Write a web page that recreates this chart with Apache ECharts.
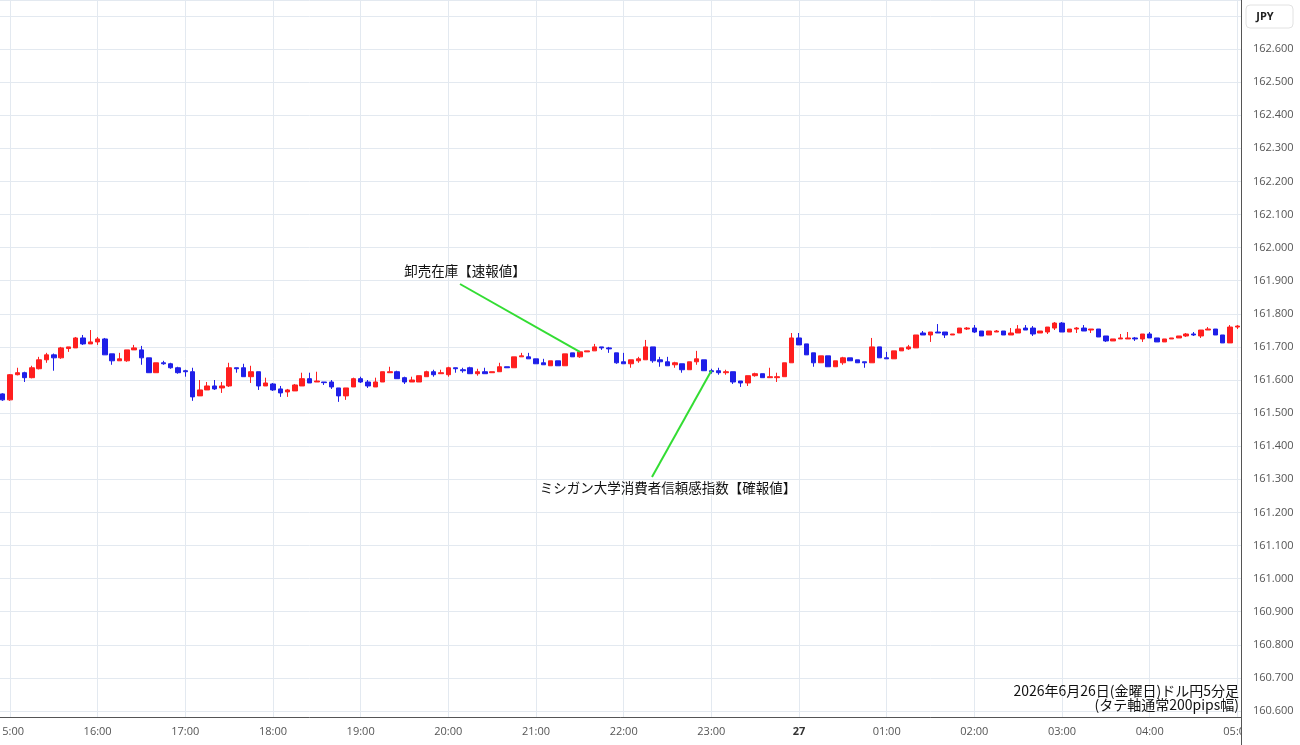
<!DOCTYPE html>
<html><head><meta charset="utf-8">
<script src="https://cdn.jsdelivr.net/npm/echarts@6/dist/echarts.min.js"></script>
<style>html,body{margin:0;padding:0;background:#fff}#c{width:1300px;height:745px}</style>
</head><body><div id="c"></div>
<script>
// USD/JPY 5-minute candles, 2026-06-26 14:55 -> 06-27 05:00
const startLabel = '14:55';
const opens = [161.558,
161.540,161.616,161.622,161.607,161.634,161.661,161.676,161.667,161.695,161.697,161.727,161.709,
161.715,161.724,161.679,161.658,161.658,161.691,161.691,161.667,161.622,161.652,161.649,161.637,
161.628,161.625,161.552,161.570,161.582,161.576,161.582,161.637,161.637,161.610,161.625,161.582,
161.588,161.573,161.564,161.567,161.582,161.604,161.594,161.594,161.594,161.576,161.552,161.579,
161.604,161.594,161.579,161.594,161.622,161.625,161.607,161.594,161.594,161.610,161.625,161.619,
161.616,161.637,161.631,161.637,161.619,161.625,161.622,161.625,161.640,161.637,161.670,161.670,
161.664,161.652,161.643,161.658,161.643,161.682,161.670,161.685,161.688,161.700,161.697,161.682,
161.655,161.649,161.658,161.661,161.700,161.661,161.655,161.646,161.649,161.631,161.655,161.661,
161.628,161.628,161.622,161.625,161.597,161.591,161.613,161.619,161.607,161.607,161.610,161.652,
161.727,161.709,161.682,161.652,161.673,161.640,161.652,161.667,161.661,161.655,161.652,161.700,
161.667,161.664,161.688,161.694,161.697,161.742,161.736,161.745,161.745,161.736,161.742,161.754,
161.757,161.748,161.736,161.745,161.748,161.736,161.742,161.757,161.757,161.742,161.745,161.757,
161.772,161.745,161.754,161.757,161.751,161.754,161.733,161.718,161.724,161.724,161.727,161.724,
161.739,161.727,161.715,161.724,161.727,161.733,161.739,161.733,161.751,161.754,161.736,161.712,
161.760];
const closes = [161.540,
161.616,161.622,161.607,161.637,161.661,161.676,161.667,161.697,161.700,161.727,161.709,161.715,
161.724,161.676,161.658,161.664,161.691,161.697,161.667,161.622,161.652,161.649,161.637,161.622,
161.625,161.549,161.570,161.582,161.573,161.582,161.637,161.634,161.610,161.625,161.582,161.591,
161.570,161.561,161.570,161.585,161.604,161.591,161.597,161.592,161.579,161.552,161.576,161.604,
161.594,161.582,161.594,161.625,161.625,161.604,161.594,161.600,161.613,161.625,161.616,161.622,
161.637,161.634,161.628,161.619,161.625,161.619,161.625,161.640,161.637,161.670,161.673,161.664,
161.649,161.646,161.658,161.643,161.679,161.670,161.685,161.688,161.700,161.697,161.694,161.652,
161.649,161.661,161.664,161.700,161.658,161.655,161.643,161.652,161.631,161.655,161.664,161.628,
161.625,161.622,161.625,161.594,161.591,161.613,161.619,161.607,161.610,161.610,161.652,161.727,
161.706,161.676,161.652,161.673,161.640,161.658,161.667,161.658,161.652,161.652,161.700,161.667,
161.664,161.688,161.697,161.700,161.736,161.736,161.745,161.742,161.736,161.739,161.757,161.757,
161.745,161.733,161.748,161.748,161.736,161.742,161.754,161.751,161.739,161.748,161.760,161.772,
161.745,161.754,161.757,161.748,161.754,161.730,161.718,161.724,161.727,161.727,161.724,161.739,
161.727,161.715,161.724,161.727,161.733,161.739,161.736,161.751,161.754,161.736,161.712,161.760,
161.763];
const lows = [161.537,
161.537,161.614,161.594,161.605,161.632,161.652,161.628,161.664,161.685,161.697,161.706,161.709,
161.706,161.676,161.646,161.658,161.655,161.691,161.646,161.622,161.622,161.646,161.634,161.619,
161.610,161.537,161.552,161.570,161.570,161.561,161.579,161.622,161.610,161.591,161.570,161.582,
161.567,161.549,161.549,161.567,161.582,161.591,161.594,161.585,161.573,161.534,161.540,161.579,
161.591,161.576,161.579,161.594,161.622,161.604,161.588,161.594,161.594,161.610,161.610,161.619,
161.610,161.622,161.622,161.619,161.613,161.619,161.622,161.625,161.637,161.637,161.670,161.664,
161.649,161.646,161.643,161.643,161.643,161.670,161.667,161.685,161.688,161.691,161.682,161.649,
161.649,161.637,161.652,161.661,161.652,161.640,161.643,161.637,161.622,161.631,161.646,161.628,
161.619,161.616,161.616,161.588,161.579,161.582,161.610,161.607,161.607,161.594,161.610,161.652,
161.706,161.676,161.640,161.652,161.640,161.640,161.646,161.658,161.652,161.637,161.652,161.667,
161.664,161.664,161.688,161.691,161.697,161.736,161.715,161.742,161.727,161.736,161.742,161.751,
161.742,161.733,161.736,161.745,161.736,161.736,161.742,161.751,161.733,161.742,161.739,161.751,
161.745,161.745,161.742,161.748,161.742,161.730,161.715,161.718,161.724,161.724,161.718,161.715,
161.727,161.715,161.715,161.724,161.727,161.730,161.733,161.727,161.751,161.736,161.712,161.712,
161.754];
const highs = [161.560,
161.618,161.637,161.625,161.643,161.670,161.682,161.680,161.700,161.700,161.730,161.736,161.751,
161.730,161.727,161.679,161.682,161.691,161.706,161.703,161.667,161.652,161.658,161.652,161.640,
161.631,161.637,161.600,161.594,161.600,161.594,161.652,161.637,161.649,161.643,161.625,161.607,
161.591,161.582,161.573,161.588,161.622,161.622,161.625,161.594,161.600,161.576,161.576,161.607,
161.610,161.600,161.607,161.625,161.640,161.628,161.610,161.610,161.613,161.628,161.631,161.631,
161.640,161.637,161.637,161.640,161.634,161.637,161.625,161.652,161.640,161.670,161.682,161.682,
161.664,161.664,161.658,161.658,161.679,161.682,161.688,161.688,161.709,161.700,161.700,161.682,
161.682,161.661,161.670,161.721,161.700,161.670,161.670,161.655,161.649,161.655,161.688,161.661,
161.634,161.637,161.631,161.625,161.597,161.613,161.622,161.619,161.637,161.622,161.652,161.742,
161.742,161.709,161.682,161.673,161.673,161.658,161.670,161.667,161.661,161.655,161.727,161.700,
161.685,161.688,161.697,161.706,161.736,161.748,161.745,161.769,161.745,161.739,161.757,161.760,
161.766,161.748,161.748,161.751,161.748,161.757,161.766,161.766,161.763,161.748,161.760,161.775,
161.775,161.754,161.760,161.766,161.754,161.754,161.733,161.724,161.739,161.745,161.730,161.739,
161.745,161.727,161.724,161.727,161.733,161.742,161.745,161.751,161.760,161.754,161.736,161.766,
161.766];
const dayLabel = '27';
const currencyLabel = 'JPY';
const note1 = '卸売在庫【速報値】';
const note2 = 'ミシガン大学消費者信頼感指数【確報値】';
const captionLines = ['2026年6月26日(金曜日)ドル円5分足', '(タテ軸通常200pips幅)'];
const note1Time = '21:30', note2Time = '23:00';

// time categories every 5 minutes
const times = [];
{
  let [h, m] = startLabel.split(':').map(Number);
  for (let i = 0; i < opens.length; i++) {
    times.push(String(h).padStart(2, '0') + ':' + String(m).padStart(2, '0'));
    m += 5; if (m >= 60) { m -= 60; h = (h + 1) % 24; }
  }
}
const note1Index = times.indexOf(note1Time), note2Index = times.indexOf(note2Time);
const data = opens.map((o, i) => [o, closes[i], lows[i], highs[i]]);
const isHour = (idx, v) => typeof v === 'string' && v.endsWith(':00');

const chart = echarts.init(document.getElementById('c'));
const gridTop = 0, gridBottom = 28, H = 745;
const pxPerUnit = 331; // 0.1 per 33.1 px
const yMax = 162.6 + 49 / pxPerUnit;
const yMin = yMax - (H - gridTop - gridBottom) / pxPerUnit;
const axisFont = 'Open Sans, Noto Sans, sans-serif';
const cjk = 'Noto Sans CJK JP, sans-serif';

chart.setOption({
  animation: false,
  backgroundColor: '#ffffff',
  grid: { left: -1, right: 59, top: gridTop, bottom: gridBottom, containLabel: false, outerBoundsMode: 'none' },
  xAxis: {
    type: 'category', data: times, boundaryGap: true,
    axisLine: { lineStyle: { color: '#555', width: 1 } },
    axisTick: { show: false },
    axisLabel: {
      interval: isHour, color: '#555', fontSize: 11, margin: 9, fontFamily: axisFont,
      formatter: v => v === '00:00' ? '{b|' + dayLabel + '}' : v,
      rich: { b: { fontWeight: 'bold', color: '#333', fontSize: 11, fontFamily: axisFont } }
    },
    splitLine: { show: true, interval: isHour, alignWithLabel: true, lineStyle: { color: '#e3e9f0', width: 1 } }
  },
  yAxis: {
    type: 'value', position: 'right', scale: true,
    min: yMin, max: yMax, minInterval: 0.1, maxInterval: 0.1,
    axisLine: { show: true, lineStyle: { color: '#555', width: 1 } },
    axisTick: { show: false },
    axisLabel: { showMinLabel: false, showMaxLabel: false, color: '#555', fontSize: 11, margin: 12,
      fontFamily: axisFont, formatter: v => v.toFixed(3) },
    splitLine: { show: true, lineStyle: { color: '#e3e9f0', width: 1 } }
  },
  series: [{
    type: 'candlestick', data: data, barWidth: 5,
    itemStyle: { color: '#ff1f1f', color0: '#1f1fe8', borderColor: '#ff1f1f', borderColor0: '#1f1fe8', borderWidth: 1 },
    markLine: {
      silent: true, symbol: ['none', 'none'], animation: false,
      label: { show: false },
      lineStyle: { color: '#33dd33', width: 2, type: 'solid' },
      emphasis: { disabled: true },
      data: [
        [{ x: 460, y: 284 }, { coord: [times[note1Index], closes[note1Index]] }],
        [{ x: 652, y: 477 }, { coord: [times[note2Index], opens[note2Index]] }]
      ]
    }
  }],
  graphic: [
    { type: 'text', z: 50, x: 465, y: 271, style: { text: note1, font: '13.5px ' + cjk, fill: '#111', align: 'center', verticalAlign: 'middle' } },
    { type: 'text', z: 50, x: 668, y: 488, style: { text: note2, font: '13.5px ' + cjk, fill: '#111', align: 'center', verticalAlign: 'middle' } },
    { type: 'text', z: 50, x: 1239, y: 691, style: { text: captionLines[0], font: '14px ' + cjk, fill: '#111', align: 'right', verticalAlign: 'middle' } },
    { type: 'text', z: 50, x: 1239, y: 705, style: { text: captionLines[1], font: '14px ' + cjk, fill: '#111', align: 'right', verticalAlign: 'middle' } },
    { type: 'rect', z: 60, shape: { x: 1242, y: 718, width: 58, height: 27 }, style: { fill: '#fff' } },
    { type: 'line', z: 61, shape: { x1: 1241.5, y1: 0, x2: 1241.5, y2: 745 }, style: { stroke: '#555', lineWidth: 1 } },
    { type: 'rect', z: 60, shape: { x: 1246, y: 5, width: 47, height: 23, r: 4 }, style: { fill: '#fff', stroke: '#e2e2e2', lineWidth: 1 } },
    { type: 'text', z: 61, x: 1265, y: 17, style: { text: currencyLabel, font: 'bold 11px ' + axisFont, fill: '#222', align: 'center', verticalAlign: 'middle' } }
  ]
});
</script>
</body></html>
